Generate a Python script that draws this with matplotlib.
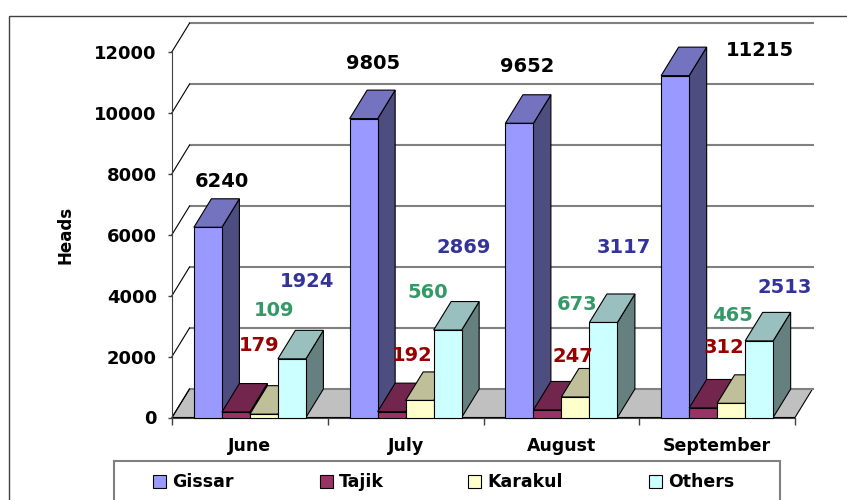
import matplotlib.pyplot as plt
from matplotlib.patches import Polygon, Rectangle

months = ["June", "July", "August", "September"]
names = ["Gissar", "Tajik", "Karakul", "Others"]
gissar = [6240, 9805, 9652, 11215]
tajik = [179, 192, 247, 312]
karakul = [109, 560, 673, 465]
others = [1924, 2869, 3117, 2513]
yticks = [0, 2000, 4000, 6000, 8000, 10000, 12000]

series = [gissar, tajik, karakul, others]
front_col = ["#9999ff", "#993366", "#ffffcc", "#ccffff"]
top_col = ["#7373bf", "#73264d", "#bfbf99", "#99bfbf"]
side_col = ["#4d4d80", "#4d1a33", "#808066", "#668080"]
label_col = ["black", "#990000", "#339966", "#333399"]
# label offsets in pixels from the front-top centre of each bar (Excel placement)
label_off = [
    [(14, 46), (9, 55), (8, 57), (85, 25)],
    [(23, 67), (21, 56), (25, 53), (21, 60)],
    [(10, 104), (8, 108), (2, 92), (1, 88)],
    [(15, 77), (16, 83), (20, 75), (26, 53)],
]

W, H = 847, 500
fig = plt.figure(figsize=(W / 100, H / 100), dpi=100)

# background layer in pixel units: frame, y label, legend
bg = fig.add_axes([0, 0, 1, 1])
bg.set_xlim(0, W)
bg.set_ylim(H, 0)
bg.axis("off")
bg.add_patch(Rectangle((9, 16), 900, 600, facecolor="white", edgecolor="#404040", lw=1))
bg.text(66, 235, "Heads", rotation=90, ha="center", va="center", fontsize=12, fontweight="bold")

bg.add_patch(Rectangle((114, 461), 666, 60, facecolor="white", edgecolor="#808080", lw=1.5))
leg_x = [153, 320, 468, 649]
for k in range(4):
    bg.add_patch(Rectangle((leg_x[k], 475), 13, 13, facecolor=front_col[k], edgecolor="black", lw=0.8))
    bg.text(leg_x[k] + 19, 482, names[k], ha="left", va="center", fontsize=12.5, fontweight="bold")

# main chart
ax = fig.add_axes([172 / W, 82.5 / H, 623 / W, 365.8 / H])
ax.patch.set_alpha(0)
ax.set_xlim(0, 4)
ax.set_ylim(0, 12000)
for s in ["top", "right"]:
    ax.spines[s].set_visible(False)
ax.spines["left"].set_color("#404040")
ax.spines["bottom"].set_color("#404040")

DX = 17.5 / 155.75
DY = 28.5 * 12000 / 365.8
GAP = 21.9 / 155.75
BW = 28 / 155.75

# floor
ax.add_patch(Polygon([(0, 0), (4, 0), (4 + DX, DY), (DX, DY)], closed=True,
                     facecolor="#c0c0c0", edgecolor="black", lw=0.8, clip_on=False, zorder=1))
# back wall gridlines and side diagonals
for v in yticks:
    ax.plot([DX, 4 + DX], [v + DY, v + DY], color="#808080", lw=1.5, clip_on=False, zorder=2)
    ax.plot([0, DX], [v, v + DY], color="black", lw=0.8, clip_on=False, zorder=2)

for i in range(4):
    for j, vals in enumerate(series):
        v = vals[i]
        x0 = i + GAP + j * BW
        x1 = x0 + BW
        z = 3 + i * 4 + j
        ax.add_patch(Polygon([(x1, 0), (x1, v), (x1 + DX, v + DY), (x1 + DX, DY)], closed=True,
                             facecolor=side_col[j], edgecolor="black", lw=0.8, clip_on=False, zorder=z))
        ax.add_patch(Polygon([(x0, v), (x1, v), (x1 + DX, v + DY), (x0 + DX, v + DY)], closed=True,
                             facecolor=top_col[j], edgecolor="black", lw=0.8, clip_on=False, zorder=z))
        ax.add_patch(Rectangle((x0, 0), BW, v, facecolor=front_col[j], edgecolor="black",
                               lw=0.8, clip_on=False, zorder=z))

for i in range(4):
    for j, vals in enumerate(series):
        x0 = i + GAP + j * BW
        ax.annotate(str(vals[i]), xy=(x0 + BW / 2, vals[i]), xytext=label_off[j][i],
                    textcoords="offset pixels", ha="center", va="center",
                    fontsize=14, fontweight="bold", color=label_col[j], zorder=50)

ax.set_yticks(yticks)
ax.set_yticklabels([str(t) for t in yticks], fontsize=13, fontweight="bold")
ax.tick_params(axis="y", direction="out", length=3, width=1, color="#404040", pad=8)

ax.set_xticks([0.5, 1.5, 2.5, 3.5])
ax.set_xticklabels(months, fontsize=12.5, fontweight="bold")
ax.set_xticks([0, 1, 2, 3, 4], minor=True)
ax.tick_params(axis="x", which="major", length=0, pad=14)
ax.tick_params(axis="x", which="minor", length=5, width=1, color="#404040")

fig.savefig("out.png", dpi=100)
